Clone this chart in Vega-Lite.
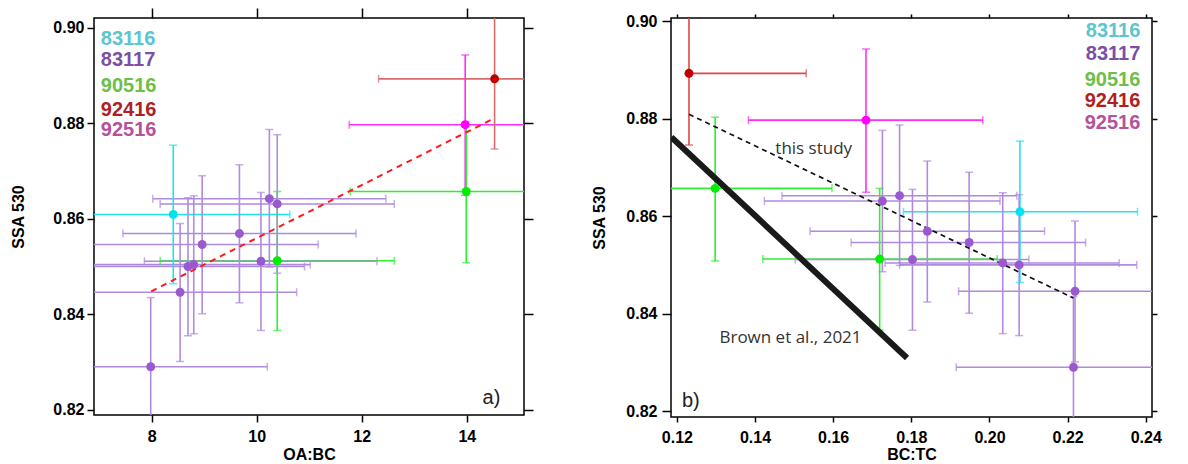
{
 "$schema": "https://vega.github.io/schema/vega-lite/v6.json",
 "padding": {"left": 10, "top": 6, "right": 5, "bottom": 0},
 "spacing": 56,
 "background": "white",
 "datasets": {
  "pts": [
   {"s":"83116","oabc":8.41,"oabc_lo":6.2,"oabc_hi":10.63,"bctc":0.2078,"bctc_lo":0.1780,"bctc_hi":0.2379,"ssa":0.8609,"ssa_lo":0.8464,"ssa_hi":0.8754},
   {"s":"92416","oabc":14.53,"oabc_lo":12.32,"oabc_hi":16.7,"bctc":0.1231,"bctc_lo":0.1231,"bctc_hi":0.1531,"ssa":0.8893,"ssa_lo":0.8746,"ssa_hi":0.905},
   {"s":"92516","oabc":13.97,"oabc_lo":11.76,"oabc_hi":16.2,"bctc":0.1684,"bctc_lo":0.1383,"bctc_hi":0.1983,"ssa":0.8797,"ssa_lo":0.8649,"ssa_hi":0.8943},
   {"s":"90516","oabc":13.99,"oabc_lo":11.78,"oabc_hi":16.2,"bctc":0.1298,"bctc_lo":0.1,"bctc_hi":0.1597,"ssa":0.8657,"ssa_lo":0.8508,"ssa_hi":0.8803},
   {"s":"90516","oabc":10.39,"oabc_lo":8.16,"oabc_hi":12.62,"bctc":0.1719,"bctc_lo":0.1420,"bctc_hi":0.2020,"ssa":0.8512,"ssa_lo":0.8366,"ssa_hi":0.8657},
   {"s":"83117","oabc":10.24,"oabc_lo":8.02,"oabc_hi":12.46,"bctc":0.1770,"bctc_lo":0.1469,"bctc_hi":0.2070,"ssa":0.8642,"ssa_lo":0.8499,"ssa_hi":0.8787},
   {"s":"83117","oabc":10.39,"oabc_lo":8.16,"oabc_hi":12.62,"bctc":0.1726,"bctc_lo":0.1424,"bctc_hi":0.2027,"ssa":0.8631,"ssa_lo":0.8486,"ssa_hi":0.8776},
   {"s":"83117","oabc":9.67,"oabc_lo":7.45,"oabc_hi":11.89,"bctc":0.1841,"bctc_lo":0.1541,"bctc_hi":0.2141,"ssa":0.8569,"ssa_lo":0.8424,"ssa_hi":0.8713},
   {"s":"83117","oabc":8.96,"oabc_lo":6.75,"oabc_hi":11.17,"bctc":0.1948,"bctc_lo":0.1646,"bctc_hi":0.2246,"ssa":0.8546,"ssa_lo":0.8401,"ssa_hi":0.8690},
   {"s":"83117","oabc":10.08,"oabc_lo":7.86,"oabc_hi":12.29,"bctc":0.1803,"bctc_lo":0.1503,"bctc_hi":0.2101,"ssa":0.8511,"ssa_lo":0.8366,"ssa_hi":0.8655},
   {"s":"83117","oabc":8.80,"oabc_lo":6.58,"oabc_hi":11.02,"bctc":0.2034,"bctc_lo":0.1733,"bctc_hi":0.2332,"ssa":0.8504,"ssa_lo":0.8359,"ssa_hi":0.8648},
   {"s":"83117","oabc":8.69,"oabc_lo":6.47,"oabc_hi":10.91,"bctc":0.2076,"bctc_lo":0.1770,"bctc_hi":0.2377,"ssa":0.8500,"ssa_lo":0.8355,"ssa_hi":0.8644},
   {"s":"83117","oabc":8.54,"oabc_lo":6.32,"oabc_hi":10.76,"bctc":0.2219,"bctc_lo":0.1921,"bctc_hi":0.2519,"ssa":0.8446,"ssa_lo":0.8301,"ssa_hi":0.8590},
   {"s":"83117","oabc":7.98,"oabc_lo":5.76,"oabc_hi":10.20,"bctc":0.2215,"bctc_lo":0.1915,"bctc_hi":0.2515,"ssa":0.8290,"ssa_lo":0.815,"ssa_hi":0.8435}
  ],
  "legend": [
   {"panel":"a","s":"83116","x":7.03,"y":0.8977},
   {"panel":"a","s":"83117","x":7.03,"y":0.8932},
   {"panel":"a","s":"90516","x":7.03,"y":0.8877},
   {"panel":"a","s":"92416","x":7.03,"y":0.8828},
   {"panel":"a","s":"92516","x":7.03,"y":0.8786},
   {"panel":"b","s":"83116","x":0.2386,"y":0.8979},
   {"panel":"b","s":"83117","x":0.2386,"y":0.8932},
   {"panel":"b","s":"90516","x":0.2386,"y":0.8880},
   {"panel":"b","s":"92416","x":0.2386,"y":0.8837},
   {"panel":"b","s":"92516","x":0.2386,"y":0.8791}
  ],
  "notes": [
   {"panel":"a","kind":"tag","t":"a)","x":14.30,"y":0.8224},
   {"panel":"b","kind":"tag","t":"b)","x":0.1213,"y":0.8221},
   {"panel":"b","kind":"label","t":"this study","x":0.1452,"y":0.8738},
   {"panel":"b","kind":"label","t":"Brown et al., 2021","x":0.1309,"y":0.8350}
  ],
  "lines": [
   {"id":"fit_a","x":7.99,"y":0.8448},
   {"id":"fit_a","x":14.46,"y":0.8807},
   {"id":"fit_b","x":0.1231,"y":0.8809},
   {"id":"fit_b","x":0.2215,"y":0.8432},
   {"id":"brown","x":0.1186,"y":0.8762},
   {"id":"brown","x":0.1789,"y":0.8309}
  ]
 },
 "config": {
  "view": {"stroke": "black", "strokeWidth": 1.5},
  "axis": {"grid": false, "domain": false, "tickColor": "black", "tickWidth": 1.5, "tickSize": 7,
           "labelFont": "Liberation Sans", "labelFontWeight": "bold", "labelFontSize": 16, "labelColor": "black",
           "titleFont": "Liberation Sans", "titleFontWeight": "bold", "titleFontSize": 16, "titleColor": "black"}
 },
 "hconcat": [
  {
   "width": 430, "height": 397,
   "resolve": {"scale": {"color": "independent"}, "axis": {"x": "independent", "y": "independent"}},
   "layer": [
    {"data": {"name": "pts"}, "mark": {"type": "rule", "strokeWidth": 1.6, "clip": true},
     "encoding": {
      "x": {"field": "oabc_lo", "type": "quantitative", "scale": {"domain": [6.9, 15.09], "nice": false, "zero": false},
            "axis": {"orient": "bottom", "values": [8, 10, 12, 14], "title": "OA:BC", "labelPadding": 6, "titlePadding": 2}},
      "x2": {"field": "oabc_hi"},
      "y": {"field": "ssa", "type": "quantitative", "scale": {"domain": [0.8189, 0.90204], "nice": false, "zero": false},
            "axis": {"orient": "left", "values": [0.82, 0.84, 0.86, 0.88, 0.90], "format": ".2f", "title": "SSA 530", "labelPadding": 3, "titlePadding": 26}},
      "color": {"field": "s", "type": "nominal", "legend": null, "scale": {"domain": ["83116","83117","90516","92416","92516"], "range": ["#1ee3ef","#b08ade","#2ef02e","#d96b6b","#ff2cff"]}}
     }},
    {"data": {"name": "pts"}, "mark": {"type": "rule", "strokeWidth": 1.6, "clip": true},
     "encoding": {
      "x": {"field": "oabc", "type": "quantitative", "axis": {"orient": "top", "values": [8, 10, 12, 14], "labels": false, "title": null, "tickSize": 10}},
      "y": {"field": "ssa_lo", "type": "quantitative", "axis": {"orient": "right", "values": [0.82, 0.84, 0.86, 0.88, 0.90], "labels": false, "title": null, "tickSize": 9}},
      "y2": {"field": "ssa_hi"},
      "color": {"field": "s", "type": "nominal", "legend": null, "scale": {"domain": ["83116","83117","90516","92416","92516"], "range": ["#1ee3ef","#b08ade","#2ef02e","#d96b6b","#ff2cff"]}}
     }},
    {"data": {"name": "pts"}, "mark": {"type": "tick", "orient": "vertical", "size": 8, "thickness": 1.5, "clip": true},
     "encoding": {
      "x": {"field": "oabc_lo", "type": "quantitative", "axis": null},
      "y": {"field": "ssa", "type": "quantitative", "axis": null},
      "color": {"field": "s", "type": "nominal", "legend": null, "scale": {"domain": ["83116","83117","90516","92416","92516"], "range": ["#1ee3ef","#b08ade","#2ef02e","#d96b6b","#ff2cff"]}}
     }},
    {"data": {"name": "pts"}, "mark": {"type": "tick", "orient": "vertical", "size": 8, "thickness": 1.5, "clip": true},
     "encoding": {
      "x": {"field": "oabc_hi", "type": "quantitative", "axis": null},
      "y": {"field": "ssa", "type": "quantitative", "axis": null},
      "color": {"field": "s", "type": "nominal", "legend": null, "scale": {"domain": ["83116","83117","90516","92416","92516"], "range": ["#1ee3ef","#b08ade","#2ef02e","#d96b6b","#ff2cff"]}}
     }},
    {"data": {"name": "pts"}, "mark": {"type": "tick", "orient": "horizontal", "size": 8, "thickness": 1.5, "clip": true},
     "encoding": {
      "x": {"field": "oabc", "type": "quantitative", "axis": null},
      "y": {"field": "ssa_lo", "type": "quantitative", "axis": null},
      "color": {"field": "s", "type": "nominal", "legend": null, "scale": {"domain": ["83116","83117","90516","92416","92516"], "range": ["#1ee3ef","#b08ade","#2ef02e","#d96b6b","#ff2cff"]}}
     }},
    {"data": {"name": "pts"}, "mark": {"type": "tick", "orient": "horizontal", "size": 8, "thickness": 1.5, "clip": true},
     "encoding": {
      "x": {"field": "oabc", "type": "quantitative", "axis": null},
      "y": {"field": "ssa_hi", "type": "quantitative", "axis": null},
      "color": {"field": "s", "type": "nominal", "legend": null, "scale": {"domain": ["83116","83117","90516","92416","92516"], "range": ["#1ee3ef","#b08ade","#2ef02e","#d96b6b","#ff2cff"]}}
     }},
    {"data": {"name": "lines"}, "transform": [{"filter": "datum.id === 'fit_a'"}],
     "mark": {"type": "line", "color": "#ff1a1a", "strokeWidth": 2, "strokeDash": [6, 5], "clip": true},
     "encoding": {
      "x": {"field": "x", "type": "quantitative", "axis": null},
      "y": {"field": "y", "type": "quantitative", "axis": null}
     }},
    {"data": {"name": "pts"}, "mark": {"type": "circle", "size": 80, "opacity": 1},
     "encoding": {
      "x": {"field": "oabc", "type": "quantitative", "axis": null},
      "y": {"field": "ssa", "type": "quantitative", "axis": null},
      "color": {"field": "s", "type": "nominal", "legend": null, "scale": {"domain": ["83116","83117","90516","92416","92516"], "range": ["#00e3ef","#9b59d0","#00ee00","#c00000","#ff00ff"]}}
     }},
    {"data": {"name": "legend"}, "transform": [{"filter": "datum.panel === 'a'"}],
     "mark": {"type": "text", "align": "left", "baseline": "middle", "font": "Liberation Sans", "fontWeight": "bold", "fontSize": 20},
     "encoding": {
      "x": {"field": "x", "type": "quantitative", "axis": null},
      "y": {"field": "y", "type": "quantitative", "axis": null},
      "text": {"field": "s"},
      "color": {"field": "s", "type": "nominal", "legend": null, "scale": {"domain": ["83116","83117","90516","92416","92516"], "range": ["#5cc6cf","#7b4fa3","#6dbf49","#b01f24","#b4529a"]}}
     }},
    {"data": {"name": "notes"}, "transform": [{"filter": "datum.panel === 'a'"}],
     "mark": {"type": "text", "align": "left", "baseline": "middle", "font": "Liberation Sans", "fontSize": 20, "color": "#222222"},
     "encoding": {
      "x": {"field": "x", "type": "quantitative", "axis": null},
      "y": {"field": "y", "type": "quantitative", "axis": null},
      "text": {"field": "t"}
     }}
   ]
  },
  {
   "width": 481, "height": 399,
   "resolve": {"scale": {"color": "independent"}, "axis": {"x": "independent", "y": "independent"}},
   "layer": [
    {"data": {"name": "pts"}, "mark": {"type": "rule", "strokeWidth": 1.6, "clip": true},
     "encoding": {
      "x": {"field": "bctc_lo", "type": "quantitative", "scale": {"domain": [0.1185, 0.2416], "nice": false, "zero": false},
            "axis": {"orient": "bottom", "values": [0.12, 0.14, 0.16, 0.18, 0.20, 0.22, 0.24], "format": ".2f", "title": "BC:TC", "tickSize": 5, "labelPadding": 7, "titlePadding": 1}},
      "x2": {"field": "bctc_hi"},
      "y": {"field": "ssa", "type": "quantitative", "scale": {"domain": [0.8188, 0.90065], "nice": false, "zero": false},
            "axis": {"orient": "left", "values": [0.82, 0.84, 0.86, 0.88, 0.90], "format": ".2f", "title": "SSA 530", "tickSize": 9, "labelPadding": 5, "titlePadding": 18}},
      "color": {"field": "s", "type": "nominal", "legend": null, "scale": {"domain": ["83116","83117","90516","92416","92516"], "range": ["#1ee3ef","#b08ade","#2ef02e","#e04848","#ff2cff"]}}
     }},
    {"data": {"name": "pts"}, "mark": {"type": "rule", "strokeWidth": 1.6, "clip": true},
     "encoding": {
      "x": {"field": "bctc", "type": "quantitative", "axis": {"orient": "top", "values": [0.12, 0.14, 0.16, 0.18, 0.20, 0.22, 0.24], "labels": false, "title": null, "tickSize": 4}},
      "y": {"field": "ssa_lo", "type": "quantitative", "axis": {"orient": "right", "values": [0.82, 0.84, 0.86, 0.88, 0.90], "labels": false, "title": null, "tickSize": 5}},
      "y2": {"field": "ssa_hi"},
      "color": {"field": "s", "type": "nominal", "legend": null, "scale": {"domain": ["83116","83117","90516","92416","92516"], "range": ["#1ee3ef","#b08ade","#2ef02e","#e04848","#ff2cff"]}}
     }},
    {"data": {"name": "pts"}, "mark": {"type": "tick", "orient": "vertical", "size": 8, "thickness": 1.5, "clip": true},
     "encoding": {
      "x": {"field": "bctc_lo", "type": "quantitative", "axis": null},
      "y": {"field": "ssa", "type": "quantitative", "axis": null},
      "color": {"field": "s", "type": "nominal", "legend": null, "scale": {"domain": ["83116","83117","90516","92416","92516"], "range": ["#1ee3ef","#b08ade","#2ef02e","#e04848","#ff2cff"]}}
     }},
    {"data": {"name": "pts"}, "mark": {"type": "tick", "orient": "vertical", "size": 8, "thickness": 1.5, "clip": true},
     "encoding": {
      "x": {"field": "bctc_hi", "type": "quantitative", "axis": null},
      "y": {"field": "ssa", "type": "quantitative", "axis": null},
      "color": {"field": "s", "type": "nominal", "legend": null, "scale": {"domain": ["83116","83117","90516","92416","92516"], "range": ["#1ee3ef","#b08ade","#2ef02e","#e04848","#ff2cff"]}}
     }},
    {"data": {"name": "pts"}, "mark": {"type": "tick", "orient": "horizontal", "size": 8, "thickness": 1.5, "clip": true},
     "encoding": {
      "x": {"field": "bctc", "type": "quantitative", "axis": null},
      "y": {"field": "ssa_lo", "type": "quantitative", "axis": null},
      "color": {"field": "s", "type": "nominal", "legend": null, "scale": {"domain": ["83116","83117","90516","92416","92516"], "range": ["#1ee3ef","#b08ade","#2ef02e","#e04848","#ff2cff"]}}
     }},
    {"data": {"name": "pts"}, "mark": {"type": "tick", "orient": "horizontal", "size": 8, "thickness": 1.5, "clip": true},
     "encoding": {
      "x": {"field": "bctc", "type": "quantitative", "axis": null},
      "y": {"field": "ssa_hi", "type": "quantitative", "axis": null},
      "color": {"field": "s", "type": "nominal", "legend": null, "scale": {"domain": ["83116","83117","90516","92416","92516"], "range": ["#1ee3ef","#b08ade","#2ef02e","#e04848","#ff2cff"]}}
     }},
    {"data": {"name": "lines"}, "transform": [{"filter": "datum.id === 'fit_b'"}],
     "mark": {"type": "line", "color": "#111111", "strokeWidth": 1.7, "strokeDash": [5, 4], "clip": true},
     "encoding": {
      "x": {"field": "x", "type": "quantitative", "axis": null},
      "y": {"field": "y", "type": "quantitative", "axis": null}
     }},
    {"data": {"name": "lines"}, "transform": [{"filter": "datum.id === 'brown'"}],
     "mark": {"type": "line", "color": "#1a1a1a", "strokeWidth": 6, "strokeCap": "butt", "clip": true},
     "encoding": {
      "x": {"field": "x", "type": "quantitative", "axis": null},
      "y": {"field": "y", "type": "quantitative", "axis": null}
     }},
    {"data": {"name": "pts"}, "mark": {"type": "circle", "size": 80, "opacity": 1},
     "encoding": {
      "x": {"field": "bctc", "type": "quantitative", "axis": null},
      "y": {"field": "ssa", "type": "quantitative", "axis": null},
      "color": {"field": "s", "type": "nominal", "legend": null, "scale": {"domain": ["83116","83117","90516","92416","92516"], "range": ["#00e3ef","#9b59d0","#00ee00","#c00000","#ff00ff"]}}
     }},
    {"data": {"name": "legend"}, "transform": [{"filter": "datum.panel === 'b'"}],
     "mark": {"type": "text", "align": "right", "baseline": "middle", "font": "Liberation Sans", "fontWeight": "bold", "fontSize": 20},
     "encoding": {
      "x": {"field": "x", "type": "quantitative", "axis": null},
      "y": {"field": "y", "type": "quantitative", "axis": null},
      "text": {"field": "s"},
      "color": {"field": "s", "type": "nominal", "legend": null, "scale": {"domain": ["83116","83117","90516","92416","92516"], "range": ["#5cc6cf","#7b4fa3","#6dbf49","#b01f24","#b4529a"]}}
     }},
    {"data": {"name": "notes"}, "transform": [{"filter": "datum.panel === 'b' && datum.kind === 'tag'"}],
     "mark": {"type": "text", "align": "left", "baseline": "middle", "font": "Liberation Sans", "fontSize": 20, "color": "#222222"},
     "encoding": {
      "x": {"field": "x", "type": "quantitative", "axis": null},
      "y": {"field": "y", "type": "quantitative", "axis": null},
      "text": {"field": "t"}
     }},
    {"data": {"name": "notes"}, "transform": [{"filter": "datum.kind === 'label'"}],
     "mark": {"type": "text", "align": "left", "baseline": "middle", "font": "Open Sans", "fontSize": 17, "color": "#333333"},
     "encoding": {
      "x": {"field": "x", "type": "quantitative", "axis": null},
      "y": {"field": "y", "type": "quantitative", "axis": null},
      "text": {"field": "t"}
     }}
   ]
  }
 ]
}
